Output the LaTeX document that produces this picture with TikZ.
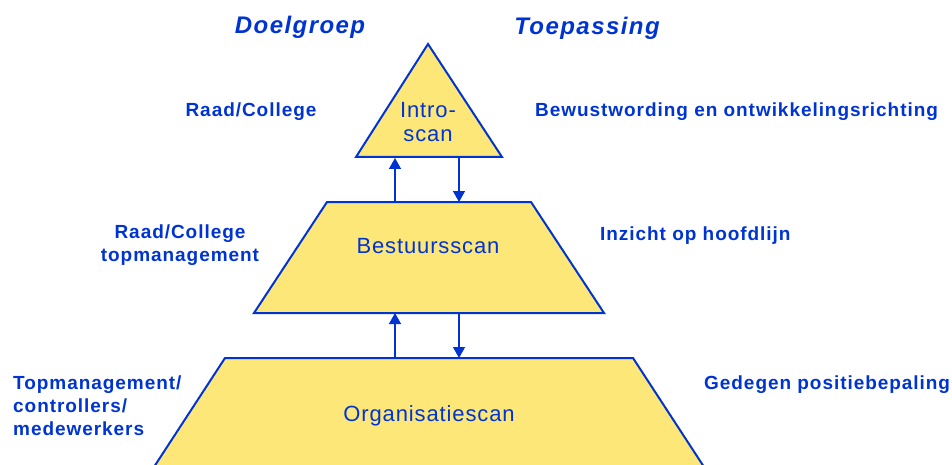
\documentclass[tikz,border=0pt]{standalone}
\usepackage{fontspec}
\setmainfont{Liberation Sans}
\newfontfamily\lblfont[LetterSpace=5]{Liberation Sans}
\newfontfamily\hdrfont[LetterSpace=6]{Liberation Sans}
\newfontfamily\shpfont[LetterSpace=4]{Liberation Sans}
\usetikzlibrary{arrows.meta}
\definecolor{pblue}{RGB}{0,52,210}
\definecolor{pyellow}{RGB}{253,231,120}
\tikzset{
  shapebox/.style={fill=pyellow, draw=pblue, line width=2pt, line join=miter},
  lbl/.style={text=pblue, inner sep=0pt, font=\lblfont\bfseries\fontsize{19}{23}\selectfont},
  hdr/.style={text=pblue, inner sep=0pt, font=\hdrfont\bfseries\itshape\fontsize{24}{26}\selectfont},
  shp/.style={text=pblue, inner sep=0pt, align=center, font=\shpfont\fontsize{22}{24.5}\selectfont},
  link/.style={draw=pblue, line width=1.4pt, -{Triangle[width=12pt,length=11pt]}}
}
\begin{document}
\begin{tikzpicture}[x=1pt,y=-1pt]
\useasboundingbox (0,0) rectangle (952,465);
% shapes
\path[shapebox] (428,44) -- (502,157) -- (356,157) -- cycle;
\path[shapebox] (327,202) -- (531,202) -- (604,313) -- (254,313) -- cycle;
\path[shapebox] (225,358) -- (633,358) -- (706,470) -- (152,470) -- cycle;
% arrow coordinates
\coordinate (a1b) at (395,202); \coordinate (a1t) at (395,158);
\coordinate (b1t) at (459,158); \coordinate (b1b) at (459,202);
\coordinate (a2b) at (395,358); \coordinate (a2t) at (395,313);
\coordinate (b2t) at (459,313); \coordinate (b2b) at (459,358);
\draw[link] (a1b) -- (a1t);
\draw[link] (b1t) -- (b1b);
\draw[link] (a2b) -- (a2t);
\draw[link] (b2t) -- (b2b);
% shape labels
\node[shp] (intro) at (428,122) {Intro-\\scan};
\node[shp] (best) at (428,246) {Bestuursscan};
\node[shp] (org) at (429,416) {Organisatiescan};
% headers
\node[hdr] (dg) at (300,27) {Doelgroep};
\node[hdr] (tp) at (587,28) {Toepassing};
% left labels
\node[lbl] (l1) at (251,112) {Raad/College};
\node[lbl, align=center] (l2) at (180,245) {Raad/College\\topmanagement};
\node[lbl, align=left, anchor=west] (l3) at (13,406) {Topmanagement/\\controllers/\\medewerkers};
% right labels
\node[lbl, anchor=west] (r1) at (535,112) {Bewustwording en ontwikkelingsrichting};
\node[lbl, anchor=west] (r2) at (600,236) {Inzicht op hoofdlijn};
\node[lbl, anchor=west] (r3) at (704,385) {Gedegen positiebepaling};
\end{tikzpicture}
\end{document}
